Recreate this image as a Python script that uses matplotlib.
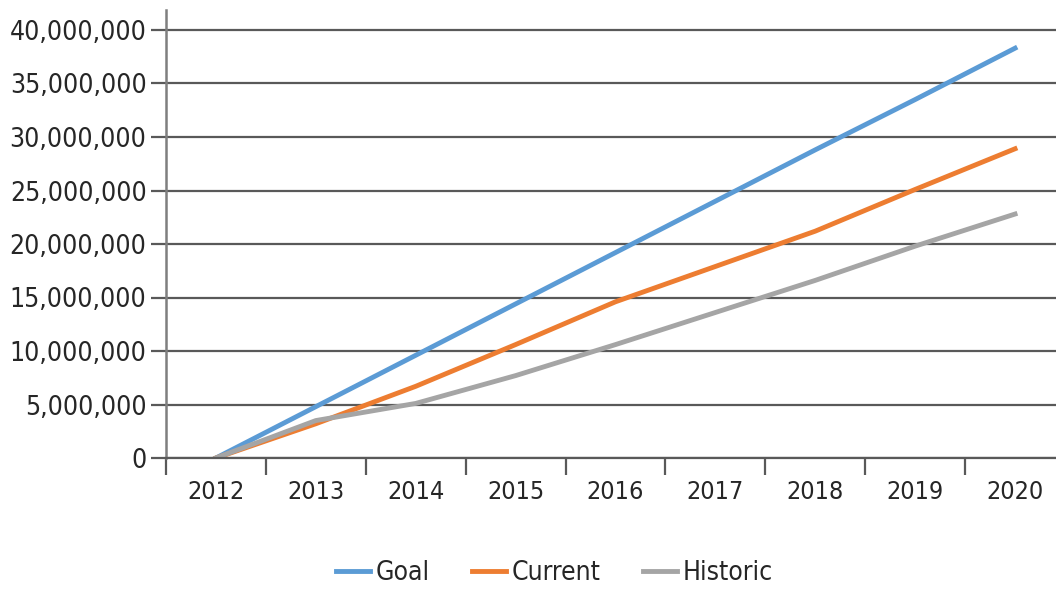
import matplotlib.pyplot as plt
from matplotlib.ticker import FuncFormatter

# values
years = ["2012", "2013", "2014", "2015", "2016", "2017", "2018", "2019", "2020"]
goal = [0, 4.8e6, 9.6e6, 14.4e6, 19.2e6, 24.0e6, 28.8e6, 33.5e6, 38.3e6]
current = [0, 3.2e6, 6.7e6, 10.6e6, 14.6e6, 17.9e6, 21.2e6, 25.1e6, 28.9e6]
historic = [0, 3.5e6, 5.1e6, 7.7e6, 10.6e6, 13.6e6, 16.6e6, 19.8e6, 22.8e6]

plt.rcParams['font.family'] = ['DejaVu Sans']
plt.rcParams['font.stretch'] = 'condensed'

fig = plt.figure(figsize=(10.56, 5.90), dpi=100)
# left spine at x=166px, y=0 at 458px, axis runs past the right edge
ax = fig.add_axes([166 / 1056, 132 / 590, (1065 - 166) / 1056, 448 / 590])

x = range(len(years))
ax.plot(x, goal, color="#5B9BD5", linewidth=3.5, label="Goal")
ax.plot(x, current, color="#ED7D31", linewidth=3.5, label="Current")
ax.plot(x, historic, color="#A5A5A5", linewidth=3.5, label="Historic")

ax.set_xlim(-0.5, len(years) - 0.5)
ax.set_ylim(0, 40e6 * 448 / 428)
ax.set_yticks([i * 5e6 for i in range(9)])
ax.yaxis.set_major_formatter(FuncFormatter(lambda v, p: f"{int(v):,}"))
ax.grid(axis="y", color="#595959", linewidth=1.6)
ax.set_axisbelow(True)

# category ticks sit on the boundaries, labels in the middle
ax.set_xticks([i - 0.5 for i in range(len(years) + 1)])
ax.set_xticklabels([])
ax.set_xticks(list(x), minor=True)
ax.set_xticklabels(years, minor=True, fontsize=18)
ax.tick_params(axis="x", which="major", length=12, width=1.6, color="#595959", direction="out")
ax.tick_params(axis="x", which="minor", length=0, pad=16)
ax.tick_params(axis="y", length=11, width=1.6, color="#595959", labelsize=19, pad=3,
               labelcolor="#262626")
ax.tick_params(axis="x", labelcolor="#262626", which="both")

for s in ["top", "right"]:
    ax.spines[s].set_visible(False)
ax.spines["left"].set_color("#7f7f7f")
ax.spines["left"].set_linewidth(1.8)
ax.spines["bottom"].set_color("#595959")
ax.spines["bottom"].set_linewidth(1.6)

leg = fig.legend(loc="center", bbox_to_anchor=(0.525, 0.028), ncol=3, frameon=False,
                 fontsize=19, handlelength=1.3, handletextpad=0.2, columnspacing=1.6)
for t in leg.get_texts():
    t.set_color("#262626")

fig.savefig("out.png", dpi=100)
